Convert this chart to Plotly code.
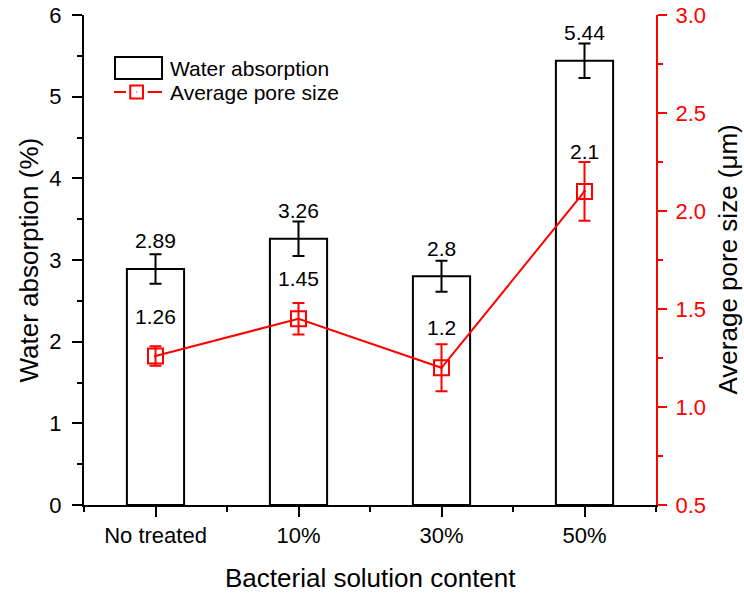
import plotly.graph_objects as go

# Data
categories = ["No treated", "10%", "30%", "50%"]
water_absorption = [2.89, 3.26, 2.80, 5.44]
water_err = [0.18, 0.21, 0.19, 0.21]
pore_size = [1.26, 1.45, 1.20, 2.10]
pore_err = [0.05, 0.08, 0.12, 0.15]

x_pos = list(range(len(categories)))
FONT = "Liberation Sans, Arial, sans-serif"
RED = "#ff0000"

fig = go.Figure()

fig.add_trace(go.Bar(
    x=x_pos, y=water_absorption, width=0.4,
    marker=dict(color="white", line=dict(color="black", width=2)),
    error_y=dict(type="data", array=water_err, color="black", thickness=2, width=6),
    name="Water absorption", showlegend=False,
))

fig.add_trace(go.Scatter(
    x=x_pos, y=pore_size, yaxis="y2", mode="lines+markers",
    line=dict(color=RED, width=2),
    marker=dict(symbol="square-open-dot", size=15, color=RED, line=dict(color=RED, width=2)),
    error_y=dict(type="data", array=pore_err, color=RED, thickness=2, width=6),
    name="Average pore size", showlegend=False,
))

annotations = []
# value labels above the bars
for xi, v in zip(x_pos, water_absorption):
    annotations.append(dict(x=xi, y=v, xref="x", yref="y", text=f"{v:g}", showarrow=False,
                            yshift=28, font=dict(size=21, color="black", family=FONT)))
# value labels above the pore-size markers
for xi, v in zip(x_pos, pore_size):
    annotations.append(dict(x=xi, y=v, xref="x", yref="y2", text=f"{v:g}", showarrow=False,
                            yshift=40, font=dict(size=21, color="black", family=FONT)))

# axis titles
annotations += [
    dict(x=0.5, y=-0.149, xref="paper", yref="paper", text="Bacterial solution content",
         showarrow=False, xanchor="center", yanchor="middle",
         font=dict(size=26, color="black", family=FONT)),
    dict(x=-0.097, y=0.5, xref="paper", yref="paper", text="Water absorption (%)",
         showarrow=False, textangle=-90, xanchor="center", yanchor="middle",
         font=dict(size=26, color="black", family=FONT)),
    dict(x=1.125, y=0.5, xref="paper", yref="paper", text="Average pore size (μm)",
         showarrow=False, textangle=-90, xanchor="center", yanchor="middle",
         font=dict(size=26, color="black", family=FONT)),
]

# legend entries
annotations += [
    dict(x=0.1469, y=0.8918, xref="paper", yref="paper", text="Water absorption",
         showarrow=False, xanchor="left", yanchor="middle",
         font=dict(size=21, color="black", family=FONT)),
    dict(x=0.1469, y=0.8414, xref="paper", yref="paper", text="Average pore size",
         showarrow=False, xanchor="left", yanchor="middle",
         font=dict(size=21, color="black", family=FONT)),
]

shapes = [
    dict(type="rect", xref="paper", yref="paper", x0=0.0542, x1=0.1364, y0=0.8694, y1=0.9143,
         line=dict(color="black", width=2), fillcolor="white"),
    dict(type="line", xref="paper", yref="paper", x0=0.0524, x1=0.0734, y0=0.8429, y1=0.8429,
         line=dict(color=RED, width=2)),
    dict(type="line", xref="paper", yref="paper", x0=0.1113, x1=0.1364, y0=0.8429, y1=0.8429,
         line=dict(color=RED, width=2)),
    dict(type="rect", xref="paper", yref="paper", x0=0.0808, x1=0.1032, y0=0.8296, y1=0.8562,
         line=dict(color=RED, width=2)),
    dict(type="rect", xref="paper", yref="paper", x0=0.0912, x1=0.0930, y0=0.8418, y1=0.8440,
         line=dict(color=RED, width=0), fillcolor=RED),
]

fig.update_layout(
    width=744, height=597,
    margin=dict(l=84, r=88, t=15, b=92),
    paper_bgcolor="white", plot_bgcolor="white",
    font=dict(family=FONT, color="black"),
    showlegend=False,
    xaxis=dict(
        range=[-0.5, 3.5], tickmode="array", tickvals=x_pos, ticktext=categories,
        showline=True, linecolor="black", linewidth=2, automargin=False,
        ticks="outside", ticklen=10, tickwidth=2, tickcolor="black",
        tickfont=dict(size=22, color="black", family=FONT),
        minor=dict(tickmode="array", tickvals=[-0.5, 0.5, 1.5, 2.5, 3.5],
                   ticks="outside", ticklen=5, tickwidth=2, tickcolor="black"),
        showgrid=False, zeroline=False,
    ),
    xaxis2=dict(
        range=[-0.5, 3.5], overlaying="x", side="top", anchor="y",
        tickmode="array", tickvals=x_pos, showticklabels=False, automargin=False,
        showline=True, linecolor="black", linewidth=2,
        ticks="inside", ticklen=10, tickwidth=2, tickcolor="black",
        showgrid=False, zeroline=False,
    ),
    yaxis=dict(
        range=[0, 6], dtick=1, tick0=0, automargin=False,
        showline=True, linecolor="black", linewidth=2,
        ticks="outside", ticklen=10, tickwidth=2, tickcolor="black",
        tickfont=dict(size=22, color="black", family=FONT), ticklabelstandoff=6,
        minor=dict(dtick=0.5, ticks="outside", ticklen=5, tickwidth=2, tickcolor="black"),
        showgrid=False, zeroline=False,
    ),
    yaxis2=dict(
        range=[0.5, 3.0], dtick=0.5, tick0=0.5, tickformat=".1f",
        overlaying="y", side="right", anchor="x", automargin=False,
        showline=True, linecolor=RED, linewidth=2,
        ticks="outside", ticklen=9, tickwidth=2, tickcolor=RED,
        tickfont=dict(size=22, color=RED, family=FONT), ticklabelstandoff=4,
        minor=dict(dtick=0.25, ticks="outside", ticklen=5, tickwidth=2, tickcolor=RED),
        showgrid=False, zeroline=False,
    ),
    annotations=annotations,
    shapes=shapes,
)

fig.write_html("out.html")
